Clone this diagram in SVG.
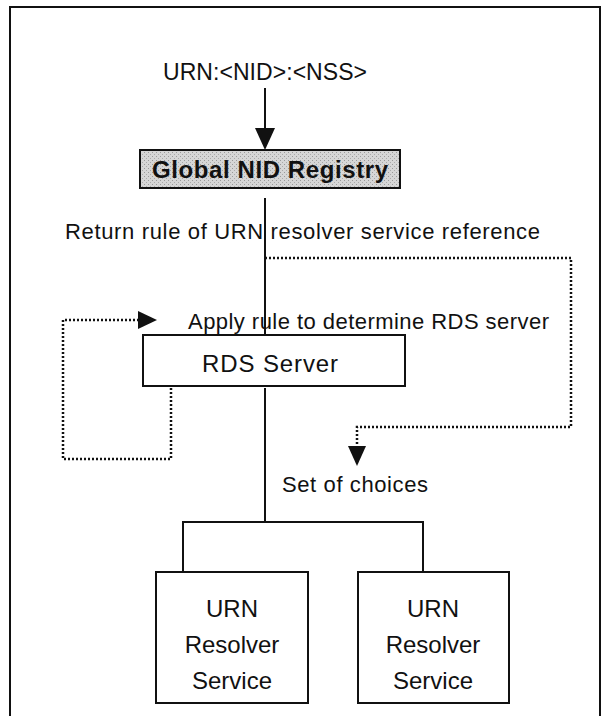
<svg xmlns="http://www.w3.org/2000/svg" width="608" height="716" viewBox="0 0 608 716">
<defs>
<style>
.t{font-family:"Liberation Sans",Arial,sans-serif;font-size:22px;fill:#111}
.c{text-anchor:middle}
.box{fill:#fff;stroke:#111;stroke-width:2}
.ln{fill:none;stroke:#111;stroke-width:2}
.dot{fill:none;stroke:#111;stroke-width:2.5;stroke-dasharray:2 2}
</style>
<pattern id="stip" width="4" height="4" patternUnits="userSpaceOnUse"><rect width="4" height="4" fill="#d6d6d6"/><rect x="0" y="0" width="1" height="1" fill="#999"/><rect x="2" y="2" width="1" height="1" fill="#aaa"/></pattern>
</defs>
<rect width="608" height="716" fill="#fff"/>
<path class="ln" d="M10,716 V7 H600 V716"/>
<g id="connectors">
<path class="ln" d="M265,88 V132"/>
<path d="M255,128 L275,128 L265,150 Z" fill="#111"/>
<path class="ln" d="M265,198 V335"/>
<path class="ln" d="M265,388 V522"/>
<path class="ln" d="M183,572 V522 H423 V572"/>
<path class="dot" d="M265,258 H571 V427 H357 V448"/>
<path d="M348,446 L366,446 L357,466 Z" fill="#111"/>
<path class="dot" d="M171,388 V459 H63 V320 H140"/>
<path d="M138,311 L157,320 L138,329 Z" fill="#111"/>
</g>
<g id="urn-label"><text class="t c" x="265" y="80" style="font-size:23px" textLength="204">URN:&lt;NID&gt;:&lt;NSS&gt;</text></g>
<g id="global-nid-registry">
<rect x="140" y="150" width="260" height="38" fill="url(#stip)" stroke="#111" stroke-width="2"/>
<text class="t c" x="270" y="178" style="font-weight:bold;font-size:24px" textLength="236">Global NID Registry</text>
</g>
<g id="return-label"><text class="t" x="65" y="239" textLength="475">Return rule of URN resolver service reference</text></g>
<g id="apply-label"><text class="t" x="188" y="329" textLength="361">Apply rule to determine RDS server</text></g>
<g id="rds-server">
<rect class="box" x="143" y="335" width="262" height="51"/>
<text class="t c" x="270" y="372" style="font-size:24px" textLength="136">RDS Server</text>
</g>
<g id="choices-label"><text class="t" x="282" y="492" textLength="146">Set of choices</text></g>
<g id="resolver-1">
<rect class="box" x="156" y="572" width="152" height="131"/>
<text class="t c" x="232" y="617" style="font-size:24px">URN</text>
<text class="t c" x="232" y="653" style="font-size:24px">Resolver</text>
<text class="t c" x="232" y="689" style="font-size:24px">Service</text>
</g>
<g id="resolver-2">
<rect class="box" x="358" y="572" width="151" height="131"/>
<text class="t c" x="433" y="617" style="font-size:24px">URN</text>
<text class="t c" x="433" y="653" style="font-size:24px">Resolver</text>
<text class="t c" x="433" y="689" style="font-size:24px">Service</text>
</g>
</svg>
